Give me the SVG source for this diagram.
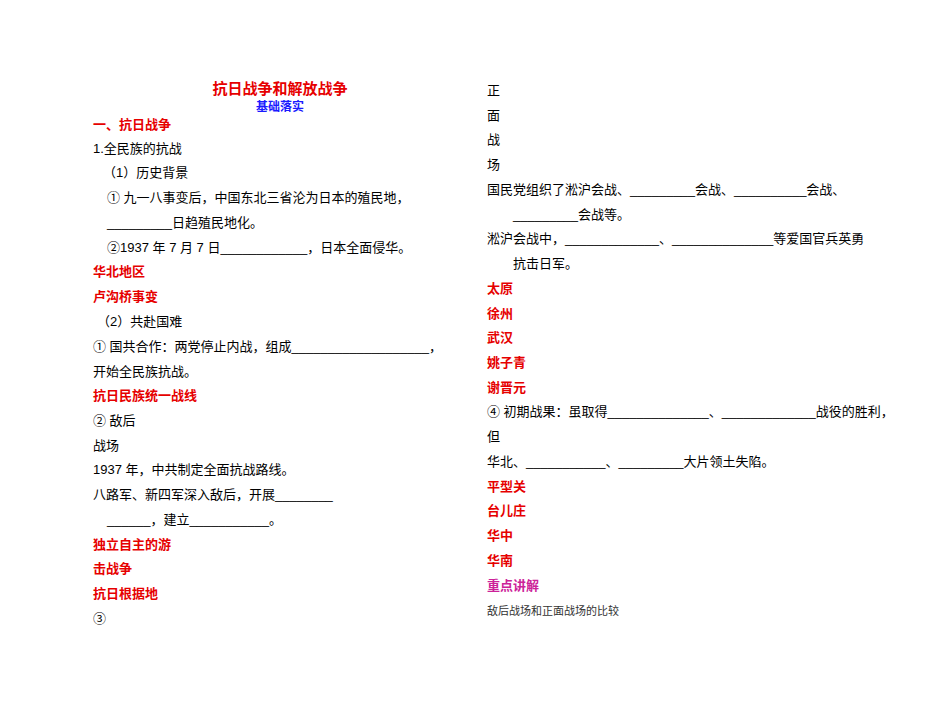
<svg xmlns="http://www.w3.org/2000/svg" width="950" height="722" viewBox="0 0 950 722">
<style>
text{font-family:"Liberation Sans","Noto Sans CJK SC",sans-serif;font-size:13px;fill:#000}
.r{fill:#e60000;font-weight:bold}
.b{fill:#1a1aff;font-weight:bold}
.m{fill:#cc2299;font-weight:bold}
.s{font-family:"Liberation Serif","Noto Sans CJK SC",serif;font-size:11px;fill:#333}
</style>
<rect width="950" height="722" fill="#fff"/>
<text x="280" y="94" class="r" text-anchor="middle" style="font-size:15px">抗日战争和解放战争</text>
<text x="280" y="111" class="b" text-anchor="middle" style="font-size:12px">基础落实</text>
<text x="93" y="129" class="r">一、抗日战争</text>
<text x="93" y="153">1.全民族的抗战</text>
<text x="103" y="177">（1）历史背景</text>
<text x="107" y="202">① 九一八事变后，中国东北三省沦为日本的殖民地，</text>
<text x="107" y="227">_________日趋殖民地化。</text>
<text x="107" y="252">②1937 年 7 月 7 日____________，日本全面侵华。</text>
<text x="93" y="276" class="r">华北地区</text>
<text x="93" y="301" class="r">卢沟桥事变</text>
<text x="97" y="326">（2）共赴国难</text>
<text x="93" y="351">① 国共合作：两党停止内战，组成___________________，</text>
<text x="93" y="376">开始全民族抗战。</text>
<text x="93" y="400" class="r">抗日民族统一战线</text>
<text x="93" y="425">② 敌后</text>
<text x="93" y="450">战场</text>
<text x="93" y="474">1937 年，中共制定全面抗战路线。</text>
<text x="93" y="499">八路军、新四军深入敌后，开展________</text>
<text x="107" y="524">______，建立___________。</text>
<text x="93" y="549" class="r">独立自主的游</text>
<text x="93" y="573" class="r">击战争</text>
<text x="93" y="598" class="r">抗日根据地</text>
<text x="93" y="623">③</text>
<text x="487" y="95">正</text>
<text x="487" y="120">面</text>
<text x="487" y="144">战</text>
<text x="487" y="169">场</text>
<text x="487" y="194">国民党组织了淞沪会战、_________会战、__________会战、</text>
<text x="513" y="219">_________会战等。</text>
<text x="487" y="243">淞沪会战中，_____________、______________等爱国官兵英勇</text>
<text x="513" y="268">抗击日军。</text>
<text x="487" y="293" class="r">太原</text>
<text x="487" y="318" class="r">徐州</text>
<text x="487" y="342" class="r">武汉</text>
<text x="487" y="367" class="r">姚子青</text>
<text x="487" y="392" class="r">谢晋元</text>
<text x="487" y="416">④ 初期战果：虽取得______________、_____________战役的胜利，</text>
<text x="487" y="441">但</text>
<text x="487" y="466">华北、___________、_________大片领土失陷。</text>
<text x="487" y="491" class="r">平型关</text>
<text x="487" y="515" class="r">台儿庄</text>
<text x="487" y="540" class="r">华中</text>
<text x="487" y="565" class="r">华南</text>
<text x="487" y="590" class="m">重点讲解</text>
<text x="487" y="615" class="s">敌后战场和正面战场的比较</text>
</svg>
